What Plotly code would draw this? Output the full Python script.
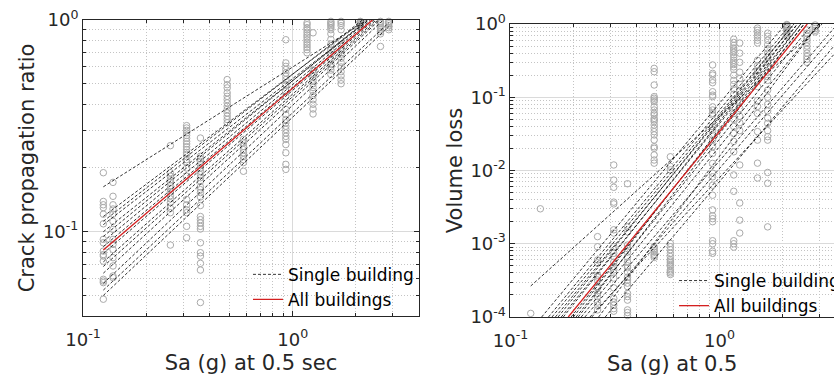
import plotly.graph_objects as go

# ---------------- data ----------------
sa_records = [0.125, 0.139, 0.261, 0.312, 0.363, 0.487, 0.582, 0.927, 1.17, 1.25, 1.52, 1.70, 2.10, 2.62, 2.87]

# Crack propagation ratio per record (left panel)
crack_0125 = [0.19, 0.139, 0.134, 0.13, 0.121, 0.109, 0.092, 0.0887, 0.081, 0.078, 0.0767, 0.0726, 0.0596, 0.0585, 0.0575, 0.048]
crack_0139 = [0.171, 0.147, 0.134, 0.128, 0.121, 0.112, 0.1026, 0.092, 0.0871, 0.0825, 0.0754, 0.0689, 0.0618, 0.0607]
crack_0261 = [0.255, 0.19, 0.183, 0.176, 0.171, 0.165, 0.16, 0.154, 0.148, 0.143, 0.137, 0.129, 0.123, 0.0865]
crack_0312 = [0.317, 0.309, 0.301, 0.293, 0.285, 0.276, 0.267, 0.26, 0.252, 0.244, 0.237, 0.232, 0.219, 0.213, 0.2, 0.183, 0.142, 0.134, 0.127, 0.123, 0.106, 0.0937]
crack_0363 = [0.277, 0.227, 0.221, 0.215, 0.208, 0.2, 0.193, 0.186, 0.18, 0.173, 0.163, 0.158, 0.153, 0.146, 0.133, 0.118, 0.114, 0.11, 0.106, 0.103, 0.0887, 0.0796, 0.0767, 0.0709, 0.0659, 0.0463]
crack_0487 = [0.523, 0.495, 0.478, 0.453, 0.436, 0.421, 0.406, 0.391, 0.378, 0.364, 0.351, 0.339, 0.327]
crack_0582 = [0.273, 0.263, 0.253, 0.244, 0.236, 0.227, 0.219, 0.212, 0.193]
crack_0927 = [0.807, 0.627, 0.604, 0.583, 0.562, 0.542, 0.523, 0.495, 0.46, 0.436, 0.378, 0.357, 0.339, 0.327, 0.315, 0.304, 0.293, 0.282, 0.273, 0.258, 0.236, 0.208, 0.197]
crack_117 = [0.97, 0.95, 0.92, 0.9, 0.875, 0.85, 0.83, 0.807, 0.785, 0.764, 0.744, 0.724, 0.7]
crack_125 = [0.87, 0.58, 0.56, 0.54, 0.52, 0.5, 0.48, 0.46, 0.44, 0.42, 0.4, 0.38, 0.36]
crack_152 = [0.985, 0.97, 0.955, 0.94, 0.92, 0.9, 0.86, 0.81, 0.77, 0.72, 0.69, 0.65, 0.62, 0.6, 0.58, 0.553]
crack_170 = [0.985, 0.965, 0.94, 0.9, 0.8, 0.76, 0.72, 0.69, 0.66, 0.63, 0.6, 0.57, 0.545, 0.52, 0.5]
crack_210 = [0.985, 0.98, 0.975, 0.97, 0.96, 0.95, 0.94, 0.93]
crack_262 = [0.985, 0.975, 0.96, 0.94, 0.92, 0.9, 0.88, 0.86, 0.75]
crack_287 = [0.985, 0.975, 0.96, 0.94, 0.92, 0.9]

# Volume loss per record (right panel)
vol_0125 = [1.12e-4]
vol_0139 = [3.0e-3]
vol_0261 = [1.25e-3, 9.1e-4, 6.0e-4, 5.5e-4, 3.7e-4, 3.5e-4, 3.2e-4, 2.6e-4, 2.5e-4, 2.1e-4, 1.9e-4, 1.6e-4, 1.45e-4, 1.25e-4]
vol_0312 = [1.19e-2, 7.4e-3, 5.9e-3, 3.7e-3, 3.5e-3, 1.55e-3, 1.4e-3, 9.1e-4, 7.4e-4, 6.7e-4, 5.6e-4, 4.9e-4, 4.4e-4, 4.0e-4, 3.4e-4, 2.5e-4, 1.8e-4, 1.6e-4, 1.45e-4, 1.3e-4, 1.2e-4]
vol_0363 = [6.6e-3, 1.7e-3, 1.45e-3, 9.6e-4, 8.6e-4, 7.7e-4, 6.6e-4, 5.6e-4, 5.0e-4, 4.7e-4, 4.1e-4, 3.5e-4, 3.2e-4, 2.9e-4, 2.6e-4, 2.1e-4, 1.9e-4, 1.7e-4, 1.25e-4, 1.15e-4, 1.05e-4]
vol_0487 = [0.248, 0.223, 0.147, 0.102, 0.097, 0.0917, 0.087, 0.0743, 0.067, 0.0604, 0.0574, 0.0516, 0.049, 0.0465, 0.0418, 0.0377, 0.0339, 0.0306, 0.0261, 0.0211, 0.0201, 0.0163, 0.0139, 0.0126, 9.1e-4, 8.6e-4, 8.1e-4, 7.7e-4, 7.2e-4, 6.9e-4, 6.5e-4]
vol_0582 = [0.0154, 0.0114, 0.0102, 1.01e-3, 9.1e-4, 8.3e-4, 7.4e-4, 6.7e-4, 6.1e-4, 5.8e-4, 5.5e-4, 5.2e-4, 4.9e-4, 4.4e-4, 4.2e-4, 4.0e-4, 3.8e-4]
vol_0927 = [0.276, 0.212, 0.201, 0.172, 0.158, 0.119, 0.107, 0.102, 0.074, 0.067, 0.0604, 0.0574, 0.0395, 0.0357, 0.0306, 0.0261, 0.0211, 0.0171, 0.0125, 0.0092, 0.0082, 0.0063, 4.6e-3, 2.9e-3, 2.4e-3, 2.2e-3, 2.0e-3, 1.1e-3, 1.0e-3, 7.9e-4, 7.4e-4]
vol_117 = [0.62, 0.56, 0.51, 0.47, 0.44, 0.41, 0.38, 0.35, 0.32, 0.3, 0.28, 0.26, 0.24, 0.2, 0.17, 0.15, 0.13, 0.11, 0.09, 0.075, 0.06, 0.05, 0.04, 0.032, 0.025, 0.018, 8.7e-3, 5.2e-3, 1.1e-3, 1.0e-3, 9.0e-4]
vol_125 = [0.55, 0.4, 0.3, 0.22, 0.18, 0.15, 0.12, 0.1, 0.085, 0.07, 0.055, 0.045, 0.035, 0.0119, 3.6e-3, 2.1e-3, 1.4e-3]
vol_152 = [0.88, 0.82, 0.76, 0.7, 0.65, 0.6, 0.55, 0.32, 0.27, 0.23, 0.2, 0.17, 0.14, 0.09, 0.075, 0.06, 0.034, 0.026, 0.0126, 0.0079]
vol_170 = [0.75, 0.68, 0.6, 0.52, 0.46, 0.4, 0.35, 0.3, 0.26, 0.22, 0.19, 0.17, 0.125, 0.1, 0.08, 0.065, 0.052, 0.044, 0.035, 0.029, 0.026, 0.0094, 0.0067, 0.0017]
vol_210 = [0.985, 0.96, 0.93, 0.9, 0.86, 0.82, 0.78, 0.74, 0.7, 0.67]
vol_262 = [0.83, 0.75, 0.68, 0.62, 0.56, 0.5, 0.45, 0.4, 0.36, 0.33, 0.3]
vol_287 = [0.97, 0.92, 0.87, 0.82, 0.78]

# Fitted lines, one per building (start / end points)
crack_line_x0 = [0.125] * 15
crack_line_y0 = [0.163, 0.118, 0.112, 0.108, 0.1, 0.095, 0.09, 0.085, 0.079, 0.072, 0.0685, 0.0637, 0.057, 0.053, 0.050]
crack_line_x1 = [2.26, 2.2, 2.15, 2.3, 2.3, 2.25, 2.35, 2.4, 2.45, 2.5, 2.55, 2.6, 2.7, 2.87, 2.87]
crack_line_y1 = [1, 1, 1, 1, 1, 1, 1, 1, 1, 1, 1, 1, 1, 0.97, 0.93]
crack_all_x = [0.125, 2.40]
crack_all_y = [0.082, 1.0]

vol_line_x0 = [0.125, 0.141, 0.152, 0.158, 0.164, 0.169, 0.175, 0.179, 0.195, 0.2, 0.206, 0.211, 0.218, 0.227, 0.245, 0.264, 0.284, 0.24]
vol_line_y0 = [2.65e-4] + [1e-4] * 17
vol_line_x1 = [3.1, 2.07, 2.19, 2.27, 2.36, 2.27, 2.45, 2.36, 2.54, 2.45, 2.78, 2.54, 2.99, 3.67, 3.93, 2.99, 4.33, 4.82]
vol_line_y1 = [1.0] * 18
vol_all_x = [0.189, 2.63]
vol_all_y = [1e-4, 1.0]

crack_columns = [crack_0125, crack_0139, crack_0261, crack_0312, crack_0363, crack_0487, crack_0582,
                 crack_0927, crack_117, crack_125, crack_152, crack_170, crack_210, crack_262, crack_287]
vol_columns = [vol_0125, vol_0139, vol_0261, vol_0312, vol_0363, vol_0487, vol_0582,
               vol_0927, vol_117, vol_125, vol_152, vol_170, vol_210, vol_262, vol_287]


def flatten(columns):
    xs, ys = [], []
    for xv, col in zip(sa_records, columns):
        xs += [xv] * len(col)
        ys += list(col)
    return xs, ys


def segments(x0, y0, x1, y1):
    xs, ys = [], []
    for a, b, c, d in zip(x0, y0, x1, y1):
        xs += [a, c, None]
        ys += [b, d, None]
    return xs, ys


FONT = "DejaVu Sans"
DARK = "#262626"
GRAY_PT = "#aaaaaa"
RED = "#d42020"

fig = go.Figure()

# ---- left panel ----
cx, cy = flatten(crack_columns)
fig.add_trace(go.Scatter(x=cx, y=cy, mode="markers", showlegend=False, cliponaxis=False,
                         marker=dict(symbol="circle-open", size=6.5, color=GRAY_PT, line=dict(width=1)),
                         xaxis="x", yaxis="y"))
lx, ly = segments(crack_line_x0, crack_line_y0, crack_line_x1, crack_line_y1)
fig.add_trace(go.Scatter(x=lx, y=ly, mode="lines", name="Single building", legend="legend",
                         line=dict(color="black", width=0.8, dash="3px,2px"), xaxis="x", yaxis="y"))
fig.add_trace(go.Scatter(x=crack_all_x, y=crack_all_y, mode="lines", name="All buildings", legend="legend",
                         line=dict(color=RED, width=1.3), xaxis="x", yaxis="y"))

# ---- right panel ----
vx, vy = flatten(vol_columns)
fig.add_trace(go.Scatter(x=vx, y=vy, mode="markers", showlegend=False, cliponaxis=False,
                         marker=dict(symbol="circle-open", size=6.5, color=GRAY_PT, line=dict(width=1)),
                         xaxis="x2", yaxis="y2"))
lx2, ly2 = segments(vol_line_x0, vol_line_y0, vol_line_x1, vol_line_y1)
fig.add_trace(go.Scatter(x=lx2, y=ly2, mode="lines", name="Single building", legend="legend2",
                         line=dict(color="black", width=0.8, dash="3px,2px"), xaxis="x2", yaxis="y2"))
fig.add_trace(go.Scatter(x=vol_all_x, y=vol_all_y, mode="lines", name="All buildings", legend="legend2",
                         line=dict(color=RED, width=1.3), xaxis="x2", yaxis="y2"))


def minor_vals(decades):
    return [m * 10 ** d for d in decades for m in range(2, 10)]


def axis(**kw):
    base = dict(type="log", showline=True, linecolor=DARK, linewidth=1, ticks="inside", ticklen=5,
                tickwidth=1, tickcolor=DARK, showgrid=True, gridcolor="#dadada", gridwidth=1,
                zeroline=False, tickfont=dict(family=FONT, size=18, color=DARK),
                title_font=dict(family=FONT, size=21, color=DARK), tickmode="array")
    base.update(kw)
    return base


def minor(vals):
    return dict(tickmode="array", tickvals=vals, ticks="inside", ticklen=3, tickcolor=DARK,
                showgrid=True, gridcolor="#c4c4c4", griddash="1px,2px", gridwidth=1)


xt = [0.1, 1]
xtt = ["10<sup>-1</sup>", "10<sup>0</sup>"]

fig.update_layout(
    width=834, height=380,
    margin=dict(l=83, r=0, t=20, b=63, autoexpand=False),
    paper_bgcolor="white", plot_bgcolor="white",
    xaxis=axis(domain=[0, 0.4474], range=[-1, 0.602], anchor="y", mirror="ticks",
               tickvals=xt, ticktext=xtt, minor=minor(minor_vals([-1]) + [2, 3]),
               ticklabelstandoff=7,
               title=dict(text="Sa (g) at 0.5 sec", standoff=6)),
    yaxis=axis(domain=[0.0034, 1], range=[-1.398, 0], anchor="x", mirror="ticks",
               tickvals=[0.1, 1], ticktext=["10<sup>-1</sup>", "10<sup>0</sup>"],
               minor=minor([0.05, 0.06, 0.07, 0.08, 0.09] + minor_vals([-1])),
               title=dict(text="Crack propagation ratio", standoff=2)),
    xaxis2=axis(domain=[0.5692, 1], range=[-1, 0.5478], anchor="y2", mirror="ticks",
                tickvals=xt, ticktext=xtt, minor=minor(minor_vals([-1]) + [2, 3]),
                ticklabelstandoff=7,
                title=dict(text="Sa (g) at 0.5", standoff=6)),
    yaxis2=axis(domain=[0, 0.9865], range=[-4, 0], anchor="x2", mirror=False,
                tickvals=[1e-4, 1e-3, 1e-2, 1e-1, 1],
                ticktext=["10<sup>-4</sup>", "10<sup>-3</sup>", "10<sup>-2</sup>", "10<sup>-1</sup>", "10<sup>0</sup>"],
                minor=minor(minor_vals([-4, -3, -2, -1])),
                title=dict(text="Volume loss", standoff=2)),
    legend=dict(x=0.2197, y=0.2027, xanchor="left", yanchor="top", bgcolor="rgba(0,0,0,0)",
                borderwidth=0, itemwidth=30, font=dict(family=FONT, size=17, color="black")),
    legend2=dict(x=0.787, y=0.1818, xanchor="left", yanchor="top", bgcolor="rgba(0,0,0,0)",
                 borderwidth=0, itemwidth=30, font=dict(family=FONT, size=17, color="black")),
)

fig.write_html("out.html")
